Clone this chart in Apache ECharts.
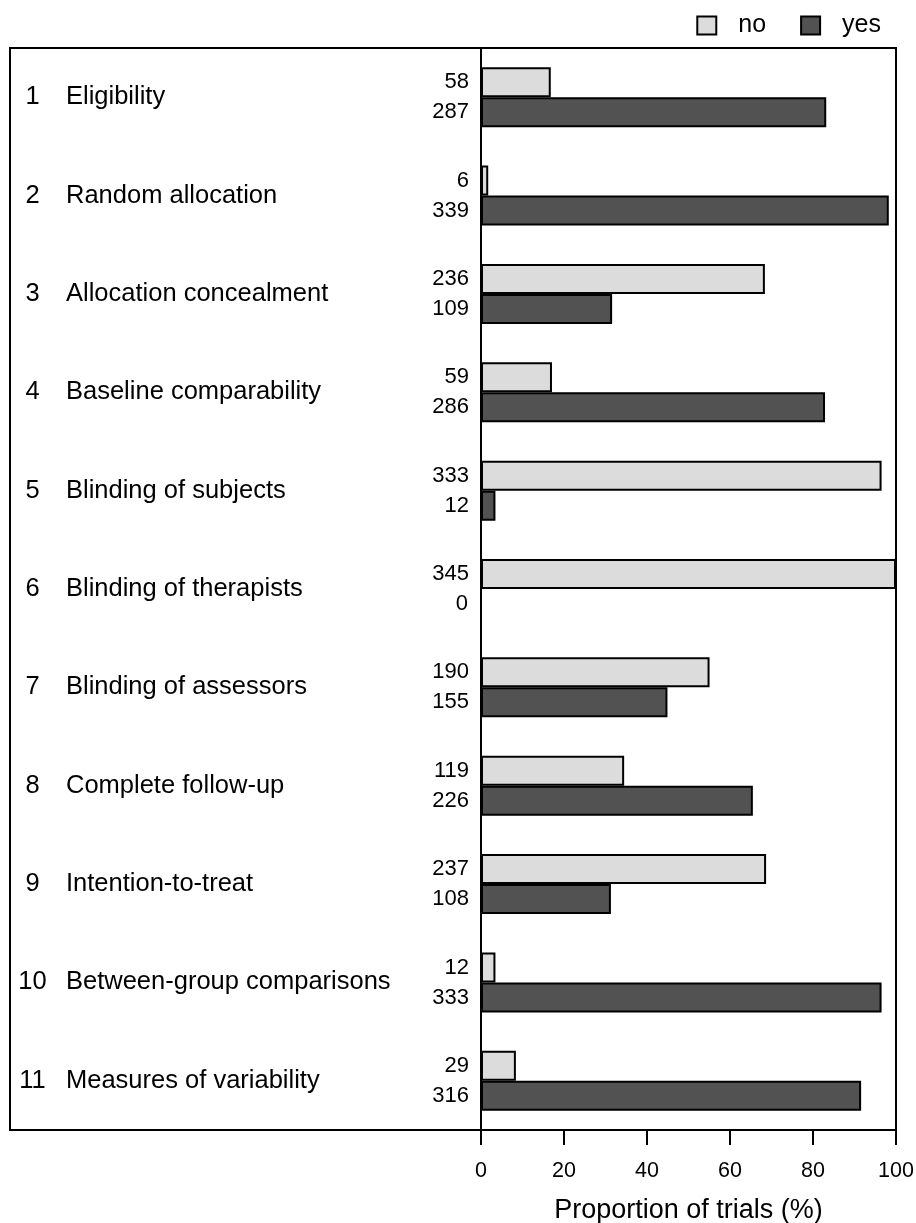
<!DOCTYPE html>
<html>
<head>
<meta charset="utf-8">
<script src="https://cdn.jsdelivr.net/npm/echarts@6/dist/echarts.min.js"></script>
<style>html,body{margin:0;padding:0;background:#fff}#c{width:916px;height:1223px}</style>
</head>
<body>
<div id="c"></div>
<script>
var categories = ['Eligibility','Random allocation','Allocation concealment','Baseline comparability','Blinding of subjects','Blinding of therapists','Blinding of assessors','Complete follow-up','Intention-to-treat','Between-group comparisons','Measures of variability'];
var totalTrials = 345;
var noCounts = [58,6,236,59,333,345,190,119,237,12,29];
var yesCounts = [287,339,109,286,12,0,155,226,108,333,316];
var xTicks = [0,20,40,60,80,100];

function pct(arr){ return arr.map(function(c){ return c / totalTrials * 100; }); }

var FONT = "'Liberation Sans', Arial, sans-serif";
var chart = echarts.init(document.getElementById('c'), null, {renderer:'canvas'});
chart.setOption({
  animation:false,
  backgroundColor:'#fff',
  textStyle:{fontFamily:FONT},
  legend:{
    right:30, top:8, icon:'rect', itemWidth:19, itemHeight:18, itemGap:34,
    textStyle:{fontSize:25, color:'#000', fontFamily:FONT, padding:[0,0,0,17]},
    data:['no','yes']
  },
  graphic:[{
    type:'rect', shape:{x:10,y:48,width:886,height:1082},
    style:{fill:'none', stroke:'#000', lineWidth:2}, silent:true, z:-1
  }],
  grid:{left:481, right:20, top:48, bottom:93, containLabel:false, outerBoundsMode:'none'},
  xAxis:{
    type:'value', min:0, max:100, interval:20,
    axisLine:{show:true, lineStyle:{color:'#000', width:2}},
    axisTick:{show:true, length:15, lineStyle:{color:'#000', width:2}},
    axisLabel:{fontSize:21.5, color:'#000', margin:30, fontFamily:FONT,
      formatter:function(v){ return xTicks.indexOf(v) >= 0 ? String(v) : ''; }},
    splitLine:{show:false},
    name:'Proportion of trials (%)', nameLocation:'middle', nameGap:67,
    nameTextStyle:{fontSize:27, color:'#000', fontFamily:FONT}
  },
  yAxis:{
    type:'category', inverse:true, data:categories,
    axisLine:{show:true, lineStyle:{color:'#000', width:2}},
    axisTick:{show:false},
    axisLabel:{
      align:'left', margin:461, color:'#000',
      formatter:function(v,i){ return '{n|' + (i+1) + '}{t|' + v + '}'; },
      rich:{
        n:{width:25, align:'right', fontSize:25.5, color:'#000', fontFamily:FONT},
        t:{fontSize:25.5, color:'#000', fontFamily:FONT, padding:[0,0,0,21]}
      }
    }
  },
  series:[
    {name:'no', type:'bar', data:pct(noCounts), barWidth:30, barGap:'0%',
     itemStyle:{color:'#dcdcdc', borderColor:'#000', borderWidth:2},
     label:{show:true, position:'left', distance:12, fontSize:22, color:'#000', fontFamily:FONT,
       formatter:function(p){ return String(noCounts[p.dataIndex]); }}},
    {name:'yes', type:'bar', data:pct(yesCounts), barWidth:30, barGap:'0%',
     itemStyle:{color:'#525252', borderColor:'#000', borderWidth:2},
     label:{show:true, position:'left', distance:12, fontSize:22, color:'#000', fontFamily:FONT,
       formatter:function(p){ return String(yesCounts[p.dataIndex]); }}}
  ]
});
</script>
</body>
</html>
